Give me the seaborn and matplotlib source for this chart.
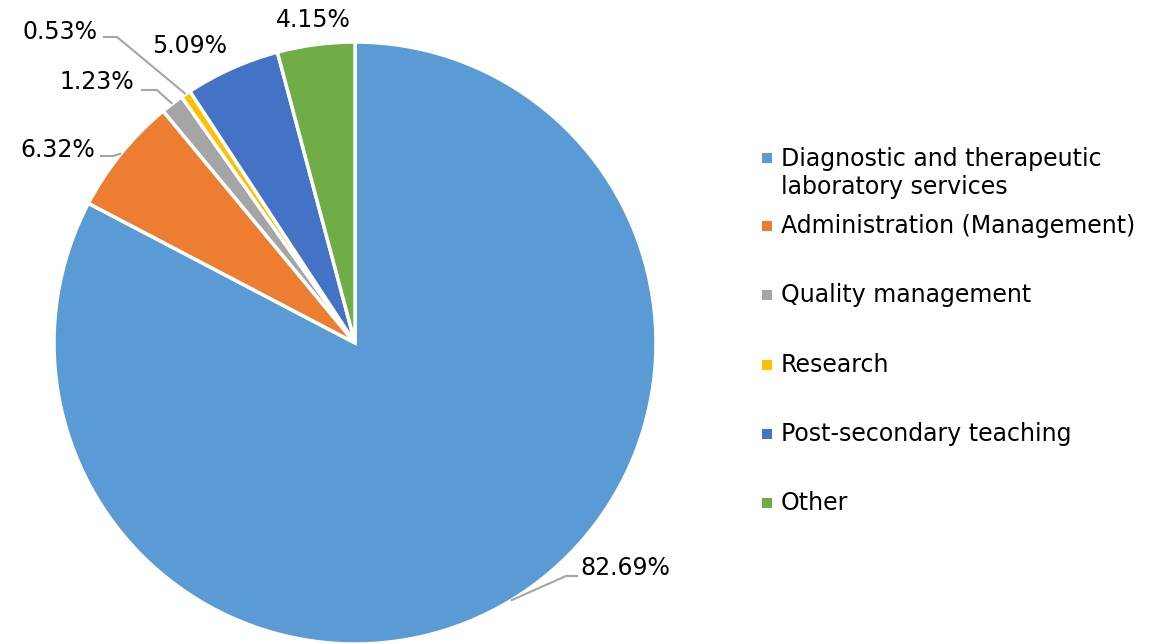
import numpy as np
import matplotlib
matplotlib.use("Agg")
import matplotlib.pyplot as plt
import seaborn as sns

categories = [
    "Diagnostic and therapeutic\nlaboratory services",
    "Administration (Management)",
    "Quality management",
    "Research",
    "Post-secondary teaching",
    "Other",
]
shares = [82.69, 6.32, 1.23, 0.53, 5.09, 4.15]
pct_labels = ["82.69%", "6.32%", "1.23%", "0.53%", "5.09%", "4.15%"]
palette = sns.color_palette(["#5B9BD5", "#ED7D31", "#A5A5A5", "#FFC000", "#4472C4", "#70AD47"])

W, H = 1153, 643
sns.set_theme(style="white")
plt.rcParams["font.family"] = ["DejaVu Sans"]

fig = plt.figure(figsize=(W / 100, H / 100), dpi=100)
ax = fig.add_axes([0, 0, 1, 1])

cx, cy, r = 355, H - 343, 301
wedges, _ = ax.pie(shares, colors=palette, startangle=90, counterclock=False,
                   center=(cx, cy), radius=r,
                   wedgeprops=dict(edgecolor="white", linewidth=2.5))
ax.set_xlim(0, W)
ax.set_ylim(0, H)
ax.set_aspect("equal")
ax.axis("off")

# label placement in pixel coords (y from top): text pos, alignment, knee of leader line (or None)
label_pos = [
    ((580, 568), "left", (566, 576), (578, 576)),
    ((95, 150), "right", (113, 156), (100, 156)),
    ((134, 82), "right", (157, 90), (141, 90)),
    ((97, 32), "right", (117, 37), (103, 37)),
    ((190, 46), "center", None, None),
    ((313, 20), "center", None, None),
]

fs = 17
for w, txt, (tp, ha, knee, start) in zip(wedges, pct_labels, label_pos):
    ax.text(tp[0], H - tp[1], txt, ha=ha, va="center", fontsize=fs, color="black")
    if knee is not None:
        ang = np.deg2rad((w.theta1 + w.theta2) / 2)
        ex, ey = cx + r * np.cos(ang), cy + r * np.sin(ang)
        ax.plot([start[0], knee[0], ex], [H - start[1], H - knee[1], ey],
                color="#A5A5A5", lw=1.5, solid_capstyle="butt")

# legend
leg_y = [173, 226, 295, 365, 434, 503]
for col, lab, y in zip(palette, categories, leg_y):
    my = 158 if "\n" in lab else y
    ax.scatter([767], [H - my], marker="s", s=60, color=col, linewidths=0)
    ax.text(781, H - y, lab, ha="left", va="center", fontsize=fs, color="black",
            linespacing=1.25)

fig.savefig("out.png", dpi=100)
